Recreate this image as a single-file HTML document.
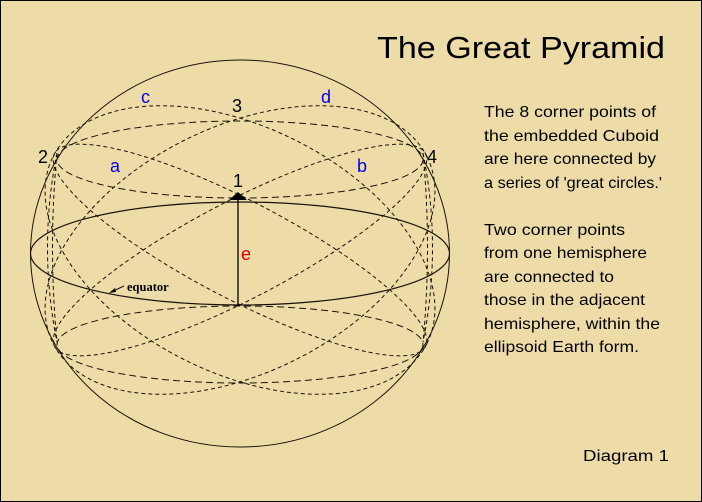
<!DOCTYPE html>
<html><head><meta charset="utf-8"><style>
html,body{margin:0;padding:0;}
body{width:702px;height:502px;background:#EDDCA8;position:relative;overflow:hidden;font-family:"Liberation Sans",sans-serif;}
.frame{position:absolute;left:0;top:0;width:700px;height:500px;border:1px solid #000;}
svg{position:absolute;left:0;top:0;}
</style></head><body>
<div class="frame"></div>
<svg width="702" height="502" viewBox="0 0 702 502">
<g fill="none" stroke="#1a1208" stroke-width="1">
<ellipse cx="240" cy="253.5" rx="209.5" ry="193.5"/>
<ellipse cx="240" cy="253.5" rx="209.5" ry="51.5" stroke-width="1.2"/>
<g stroke-dasharray="7,4">
<ellipse cx="240" cy="159.5" rx="183" ry="38.5"/>
<ellipse cx="240" cy="344.5" rx="183" ry="38.5"/>
</g>
<g stroke-dasharray="4,3">
<ellipse cx="240" cy="250" rx="209" ry="123" transform="rotate(26.5 240 250)"/>
<ellipse cx="240" cy="250" rx="209" ry="123" transform="rotate(-26.5 240 250)"/>
<ellipse cx="240" cy="250" rx="209" ry="49" transform="rotate(27.5 240 250)"/>
<ellipse cx="240" cy="250" rx="209" ry="49" transform="rotate(-27.5 240 250)"/>
<path d="M57,153 Q38,248 57,342"/>
<path d="M57,153 Q48,248 57,342"/>
<path d="M423,153 Q442,248 423,342"/>
<path d="M423,153 Q432,248 423,342"/>
</g>
<line x1="238" y1="198" x2="238" y2="306" stroke="#000" stroke-width="1.3"/>
<line x1="124" y1="286" x2="111" y2="292"/>
</g>
<polygon points="229,200 238,192 247,200" fill="#000"/>
<polygon points="109,293 115,288 116,292" fill="#000"/>
<g font-family="Liberation Sans, sans-serif" font-size="18">
<text x="38" y="163" fill="#000">2</text>
<text x="232" y="112" fill="#000">3</text>
<text x="427" y="163" fill="#000">4</text>
<text x="233" y="187" fill="#000">1</text>
<text x="110" y="172" fill="#0000ee">a</text>
<text x="357" y="172" fill="#0000ee">b</text>
<text x="141" y="103" fill="#0000ee">c</text>
<text x="321" y="103" fill="#0000ee">d</text>
<text x="241" y="260" fill="#e00000">e</text>
</g>
<text x="127" y="291" font-family="Liberation Serif, serif" font-weight="bold" font-size="12.5" fill="#000">equator</text>
<text x="377" y="58" font-family="Liberation Sans, sans-serif" font-size="31" fill="#000" textLength="288" lengthAdjust="spacingAndGlyphs">The Great Pyramid</text>
<g font-family="Liberation Sans, sans-serif" font-size="16" fill="#000">
<text x="484" y="117" textLength="172" lengthAdjust="spacingAndGlyphs">The 8 corner points of</text>
<text x="484" y="141" textLength="175" lengthAdjust="spacingAndGlyphs">the embedded Cuboid</text>
<text x="484" y="164" textLength="172" lengthAdjust="spacingAndGlyphs">are here connected by</text>
<text x="484" y="188" textLength="178" lengthAdjust="spacingAndGlyphs">a series of 'great circles.'</text>
<text x="484" y="235" textLength="141" lengthAdjust="spacingAndGlyphs">Two corner points</text>
<text x="484" y="258" textLength="163" lengthAdjust="spacingAndGlyphs">from one hemisphere</text>
<text x="484" y="282" textLength="130" lengthAdjust="spacingAndGlyphs">are connected to</text>
<text x="484" y="305" textLength="161" lengthAdjust="spacingAndGlyphs">those in the adjacent</text>
<text x="484" y="329" textLength="176" lengthAdjust="spacingAndGlyphs">hemisphere, within the</text>
<text x="484" y="352" textLength="155" lengthAdjust="spacingAndGlyphs">ellipsoid Earth form.</text>
<text x="583" y="461" textLength="86" lengthAdjust="spacingAndGlyphs">Diagram 1</text>
</g>
</svg>
</body></html>
